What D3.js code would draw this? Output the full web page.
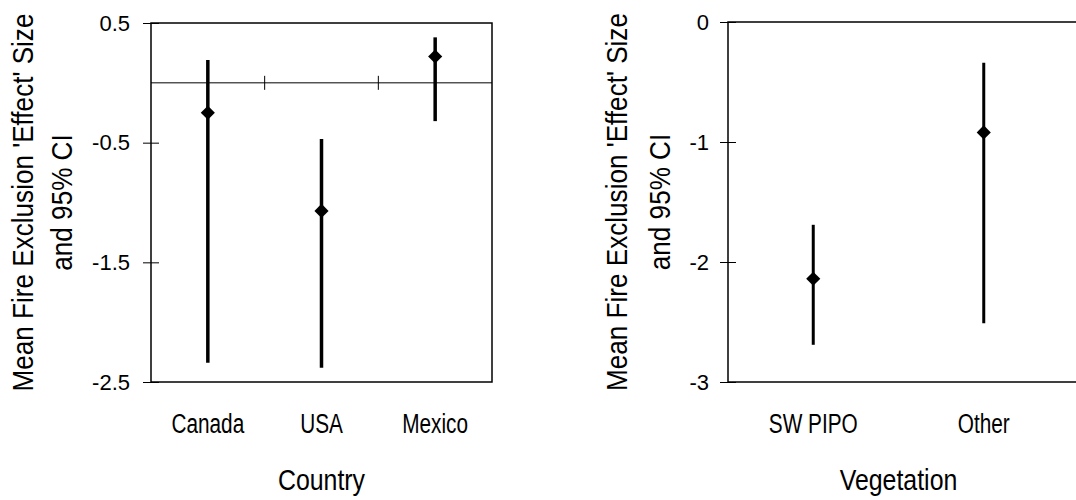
<!DOCTYPE html>
<html>
<head>
<meta charset="utf-8">
<script src="https://cdn.jsdelivr.net/npm/d3@7"></script>
<style>
    body { margin: 0; background: #fff; }
    svg { display: block; font-family: "Liberation Sans", Arial, sans-serif; }
</style>
</head>
<body>
<div id="chart"></div>
<script>
// Values
const countries = ["Canada", "USA", "Mexico"];
const countryMean = [-0.25, -1.07, 0.22];
const countryLow = [-2.34, -2.38, -0.32];
const countryHigh = [0.19, -0.47, 0.38];
const countryTicks = [0.5, -0.5, -1.5, -2.5];

const vegetation = ["SW PIPO", "Other"];
const vegMean = [-2.14, -0.92];
const vegLow = [-2.69, -2.51];
const vegHigh = [-1.69, -0.34];
const vegTicks = [0, -1, -2, -3];

const width = 1076;
const height = 500;

const svg = d3.select("#chart")
    .append("svg")
    .attr("width", width)
    .attr("height", height);

// condensed-looking text: scale along the text direction only
function label(g, x, y, txt, size, sx, rot) {
    return g.append("text")
        .attr("transform", `translate(${x},${y}) rotate(${rot || 0}) scale(${sx},1)`)
        .attr("text-anchor", "middle")
        .attr("font-size", size)
        .attr("fill", "#000")
        .text(txt);
}

function panel(opt) {
    const g = svg.append("g");
    const x = d3.scaleBand().domain(opt.cats).range([opt.left, opt.right]);
    const y = d3.scaleLinear().domain(opt.domain).range([opt.top, opt.bottom]);

    // plot area border
    g.append("rect")
        .attr("x", opt.left)
        .attr("y", opt.top)
        .attr("width", opt.boxRight - opt.left)
        .attr("height", opt.bottom - opt.top)
        .attr("fill", "none")
        .attr("stroke", "#000")
        .attr("stroke-width", 1.5);

    // y axis with crossing ticks
    const ya = g.append("g")
        .attr("transform", `translate(${opt.left},0)`)
        .call(d3.axisLeft(y).tickValues(opt.ticks).tickSize(8).tickPadding(opt.pad)
            .tickFormat(d => String(d)));
    ya.select(".domain").remove();
    ya.selectAll(".tick line").attr("x1", 8).attr("x2", -8).attr("stroke", "#000");
    ya.selectAll(".tick text")
        .attr("font-size", 22)
        .attr("font-family", "Liberation Sans, Arial, sans-serif")
        .attr("fill", "#000");

    // zero line with category boundary ticks
    if (opt.zeroLine) {
        g.append("line")
            .attr("x1", opt.left).attr("x2", opt.right)
            .attr("y1", y(0)).attr("y2", y(0))
            .attr("stroke", "#000").attr("stroke-width", 1);
        g.selectAll(".cat-tick")
            .data(opt.cats.slice(1))
            .join("line")
            .attr("x1", d => x(d)).attr("x2", d => x(d))
            .attr("y1", y(0) - 7).attr("y2", y(0) + 7)
            .attr("stroke", "#000").attr("stroke-width", 1);
    }

    const rows = opt.cats.map((c, i) => ({ c, m: opt.mean[i], lo: opt.low[i], hi: opt.high[i] }));
    const cx = d => x(d.c) + x.bandwidth() / 2;

    g.selectAll(".ci")
        .data(rows)
        .join("line")
        .attr("x1", cx).attr("x2", cx)
        .attr("y1", d => y(d.hi)).attr("y2", d => y(d.lo))
        .attr("stroke", "#000")
        .attr("stroke-width", opt.barWidth);

    g.selectAll(".mean")
        .data(rows)
        .join("path")
        .attr("d", d3.symbol(d3.symbolSquare, 100))
        .attr("transform", d => `translate(${cx(d)},${y(d.m)}) rotate(45)`)
        .attr("fill", "#000");

    // category labels
    rows.forEach(d => label(g, cx(d), 433, d.c, 27, 0.77));

    // axis titles
    label(g, (opt.left + opt.right) / 2, 490, opt.xTitle, 30, 0.83);
    const ym = (opt.top + opt.bottom) / 2;
    label(g, opt.titleX[0], ym, "Mean Fire Exclusion 'Effect' Size", 30, 0.87, -90);
    label(g, opt.titleX[1], ym, "and 95% CI", 30, 0.87, -90);
}

panel({
    cats: countries, mean: countryMean, low: countryLow, high: countryHigh,
    ticks: countryTicks, domain: [0.5, -2.5],
    left: 151, right: 492, boxRight: 492, top: 23, bottom: 382,
    pad: 13, barWidth: 3.5, zeroLine: true,
    xTitle: "Country", titleX: [33, 72]
});

panel({
    cats: vegetation, mean: vegMean, low: vegLow, high: vegHigh,
    ticks: vegTicks, domain: [0, -3],
    left: 728, right: 1069, boxRight: 1090, top: 22, bottom: 382,
    pad: 11, barWidth: 3, zeroLine: false,
    xTitle: "Vegetation", titleX: [627, 670]
});
</script>
</body>
</html>
